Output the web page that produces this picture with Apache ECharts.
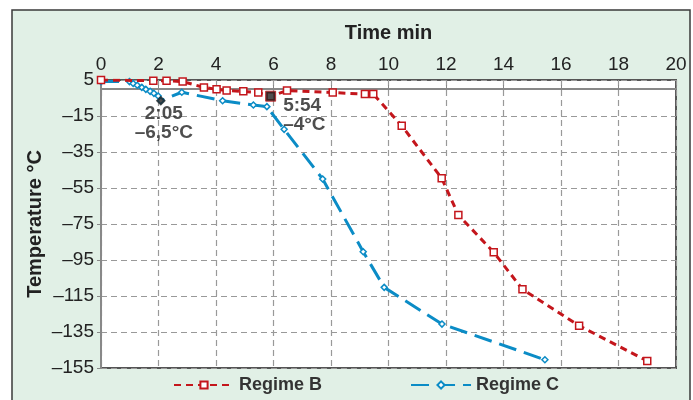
<!DOCTYPE html>
<html>
<head>
<meta charset="utf-8">
<script src="https://cdn.jsdelivr.net/npm/echarts@6/dist/echarts.min.js"></script>
<style>
  html, body { margin: 0; padding: 0; background: #fff; }
  #chart { width: 693px; height: 400px; }
</style>
</head>
<body>
<div id="chart"></div>
<script>
// Regime B (red, squares)
var timeB = [0, 1.82, 2.28, 2.84, 3.58, 4.02, 4.37, 4.95, 5.47, 5.9, 6.47, 8.06, 9.18, 9.47, 10.46, 11.85, 12.43, 13.66, 14.66, 16.63, 19.0];
var tempB = [5, 4.6, 4.6, 4.1, 0.9, -0.2, -0.9, -1.3, -2, -4, -0.9, -2, -2.8, -2.8, -20.4, -49.6, -70, -90.7, -111.3, -131.5, -151.1];
// Regime C (blue, diamonds)
var timeC = [0, 0.99, 1.12, 1.26, 1.42, 1.56, 1.71, 1.84, 1.99, 2.08, 2.81, 4.23, 5.30, 5.77, 6.37, 7.71, 9.12, 9.85, 11.86, 15.44];
var tempC = [4.1, 4.1, 3.1, 2.1, 0.9, -0.2, -1.3, -2.4, -3.9, -6.5, -1.8, -6.5, -8.9, -9.8, -22.4, -50, -90.4, -110.2, -130.6, -150.4];
// highlighted readings
var markC = [2.08, -6.5], markCLabel = '2:05\n–6,5°C';
var markB = [5.9, -4], markBLabel = '5:54\n–4°C';

function pairs(xs, ys) {
    var out = [];
    for (var i = 0; i < xs.length; i++) out.push([xs[i], ys[i]]);
    return out;
}

var chart = echarts.init(document.getElementById('chart'));
var font = 'Liberation Sans, Arial, sans-serif';
var red = '#c4161c', blue = '#0b8cc6';

chart.setOption({
    animation: false,
    textStyle: { fontFamily: font },
    graphic: [{
        type: 'rect',
        z: -10,
        shape: { x: 12, y: 10, width: 678, height: 400 },
        style: { fill: '#e1f0e6', stroke: '#3a3a3a', lineWidth: 1.5 }
    }],
    grid: {
        left: 101, right: 17, top: 80, bottom: 32,
        show: true, backgroundColor: '#fff',
        borderColor: '#555', borderWidth: 2
    },
    legend: {
        bottom: 1, left: 168,
        itemWidth: 60, itemHeight: 9, itemGap: 88,
        data: ['Regime B', 'Regime C'],
        textStyle: { fontSize: 18, fontWeight: 'bold', color: '#333', fontFamily: font }
    },
    xAxis: {
        type: 'value', position: 'top',
        min: 0, max: 20, interval: 2,
        name: 'Time min', nameLocation: 'middle', nameGap: 37,
        nameTextStyle: { fontSize: 20, fontWeight: 'bold', color: '#222' },
        axisLine: { show: true, lineStyle: { color: '#888', width: 2 } },
        axisTick: { show: true, length: 4, lineStyle: { color: '#888' } },
        axisLabel: { fontSize: 19, color: '#222', margin: 6 },
        splitLine: { show: true, lineStyle: { color: '#999', type: [6, 4], width: 1.2 } }
    },
    yAxis: {
        type: 'value',
        min: -155, max: 5, interval: 20,
        name: 'Temperature °C', nameLocation: 'middle', nameGap: 56, nameRotate: 90,
        nameMoveOverlap: false,
        nameTextStyle: { fontSize: 20, fontWeight: 'bold', color: '#222' },
        axisLine: { show: true, lineStyle: { color: '#888', width: 2 } },
        axisTick: { show: true, length: 4, lineStyle: { color: '#888' } },
        axisLabel: {
            fontSize: 19, color: '#222', margin: 7,
            formatter: function (v) { return String(v).replace('-', '–'); }
        },
        splitLine: { show: true, lineStyle: { color: '#999', type: [6, 4], width: 1.2 } }
    },
    series: [{
        name: 'Regime B', type: 'line',
        data: pairs(timeB, tempB),
        symbol: 'rect', symbolSize: 7, showAllSymbol: true,
        itemStyle: { color: '#fff', borderColor: red, borderWidth: 1.5 },
        lineStyle: { color: red, width: 3, type: [7, 5] },
        z: 3
    }, {
        name: 'Regime C', type: 'line',
        data: pairs(timeC, tempC),
        symbol: 'diamond', symbolSize: 6, showAllSymbol: true,
        itemStyle: { color: '#fff', borderColor: blue, borderWidth: 1.5 },
        lineStyle: { color: blue, width: 3, type: [18, 8] },
        z: 2
    }, {
        name: 'markB', type: 'scatter',
        data: [markB], symbol: 'rect', symbolSize: 10,
        itemStyle: { color: '#222', borderColor: red, borderWidth: 1 },
        label: {
            show: true, position: 'right', offset: [2, 19],
            formatter: markBLabel, fontSize: 19, fontWeight: 'bold',
            color: '#222', lineHeight: 19, align: 'left'
        },
        z: 5
    }, {
        name: 'markC', type: 'scatter',
        data: [markC], symbol: 'diamond', symbolSize: 10,
        itemStyle: { color: '#222' },
        label: {
            show: true, position: 'bottom', offset: [3, -6],
            formatter: markCLabel, fontSize: 19, fontWeight: 'bold',
            color: '#222', lineHeight: 19, align: 'center'
        },
        z: 5
    }]
});
</script>
</body>
</html>
